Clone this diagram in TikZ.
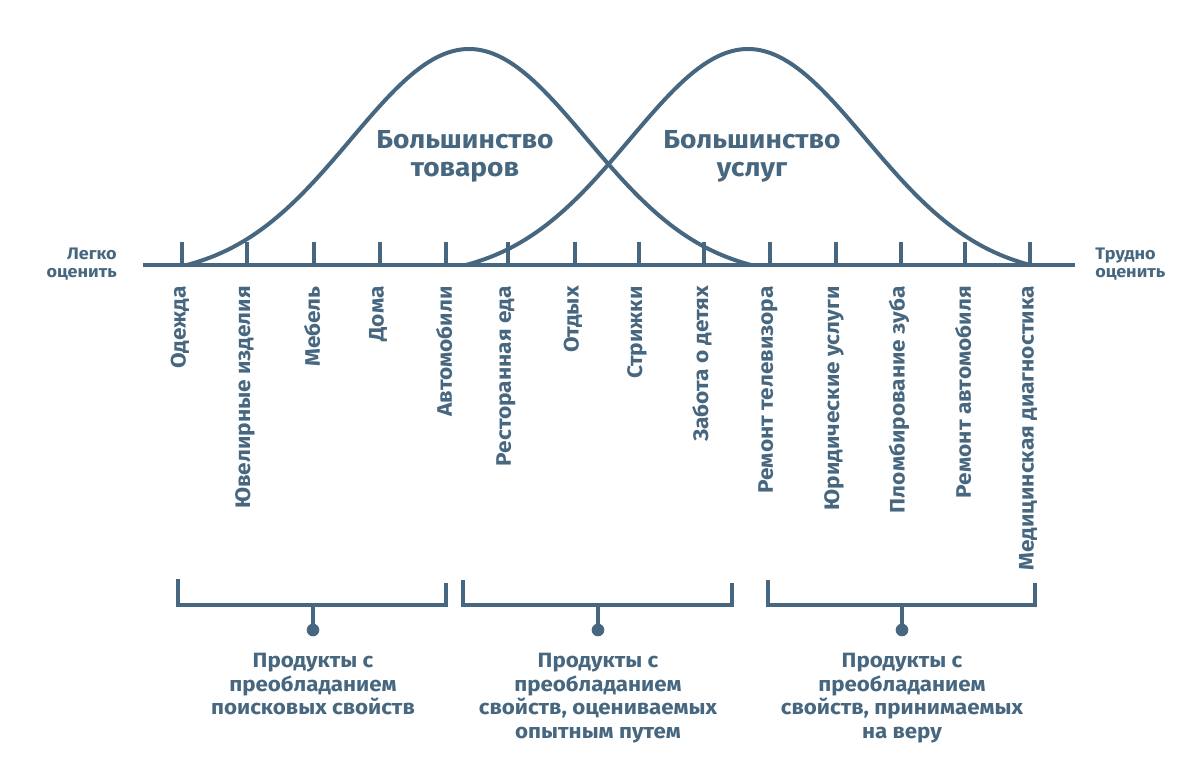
\documentclass[tikz,border=0pt]{standalone}
\usepackage{fontspec}
\setmainfont[FakeStretch=1.08]{Fira Sans}
\definecolor{ink}{HTML}{46677F}
\begin{document}
\begin{tikzpicture}[x=0.75pt,y=-0.75pt,
  axisline/.style={draw=ink, line width=3pt},
  curveline/.style={draw=ink, line width=3pt, line join=round},
  tickline/.style={draw=ink, line width=2.4pt},
  brace/.style={draw=ink, line width=2.4pt},
  dotnode/.style={circle, fill=ink, inner sep=0pt, minimum size=9.5pt},
  itemlbl/.style={rotate=90, anchor=east, text=ink, inner sep=0pt, font=\bfseries\fontsize{15.75}{18}\selectfont},
  grouplbl/.style={anchor=north, align=center, text=ink, inner sep=0pt, font=\bfseries\fontsize{15.5}{17.6}\selectfont},
  biglbl/.style={anchor=north, align=center, text=ink, inner sep=0pt, font=\bfseries\fontsize{19.5}{21}\selectfont},
  endlbl/.style={text=ink, inner sep=0pt, font=\bfseries\fontsize{12.5}{13.5}\selectfont}
]
\useasboundingbox (0,0) rectangle (1200,769);
\fill[white] (0,0) rectangle (1200,769);

% axis
\coordinate (axL) at (143,265);
\coordinate (axR) at (1075,265);
\draw[axisline] (axL) -- (axR);

% bell curves
\draw[curveline] plot[domain=-282:282, samples=120, variable=\t]
  ({469+\t},{265-216*(exp(-0.5*(\t/118)^2)-0.0573)/0.9427});
\draw[curveline] plot[domain=-282:282, samples=120, variable=\t]
  ({748+\t},{265-216*(exp(-0.5*(\t/118)^2)-0.0573)/0.9427});

% ticks and item labels
\foreach \n/\x/\txt in {
  1/182/Одежда,
  2/247/Ювелирные изделия,
  3/314/Мебель,
  4/380/Дома,
  5/446/Автомобили,
  6/508/Ресторанная еда,
  7/575/Отдых,
  8/639/Стрижки,
  9/704/Забота о детях,
  10/770/Ремонт телевизора,
  11/836/Юридические услуги,
  12/901/Пломбирование зуба,
  13/965/Ремонт автомобиля,
  14/1030/Медицинская диагностика}{
  \coordinate (t\n) at (\x,265);
  \draw[tickline] (t\n) -- ++(0,-23);
  \node[itemlbl] (l\n) at (\x-2,286) {\txt};
}

% end labels
\node[endlbl, anchor=north east, align=right] (easy) at (117,248) {Легко\\оценить};
\node[endlbl, anchor=north west, align=left] (hard) at (1095,248) {Трудно\\оценить};

% big labels
\node[biglbl] (goods) at (465,130) {Большинство\\товаров};
\node[biglbl] (serv) at (752,130) {Большинство\\услуг};

% brackets
\coordinate (b1a) at (178,579); \coordinate (b1b) at (178,605);
\coordinate (b1c) at (446,605); \coordinate (b1d) at (446,583);
\coordinate (b1m) at (313,605);
\coordinate (b2a) at (463,580); \coordinate (b2b) at (463,605);
\coordinate (b2c) at (732,605); \coordinate (b2d) at (732,583);
\coordinate (b2m) at (598,605);
\coordinate (b3a) at (768,580); \coordinate (b3b) at (768,605);
\coordinate (b3c) at (1035,605); \coordinate (b3d) at (1035,583);
\coordinate (b3m) at (902,605);
\draw[brace] (b1a) -- (b1b) -- (b1c) -- (b1d);
\draw[brace] (b2a) -- (b2b) -- (b2c) -- (b2d);
\draw[brace] (b3a) -- (b3b) -- (b3c) -- (b3d);
\node[dotnode] (d1) at (313,630) {};
\node[dotnode] (d2) at (598,630) {};
\node[dotnode] (d3) at (902,630) {};
\draw[brace] (b1m) -- (d1.center);
\draw[brace] (b2m) -- (d2.center);
\draw[brace] (b3m) -- (d3.center);

\node[grouplbl] (g1) at (313,653) {Продукты с\\преобладанием\\поисковых свойств};
\node[grouplbl] (g2) at (598,653) {Продукты с\\преобладанием\\свойств, оцениваемых\\опытным путем};
\node[grouplbl] (g3) at (902,653) {Продукты с\\преобладанием\\свойств, принимаемых\\на веру};
\end{tikzpicture}
\end{document}
